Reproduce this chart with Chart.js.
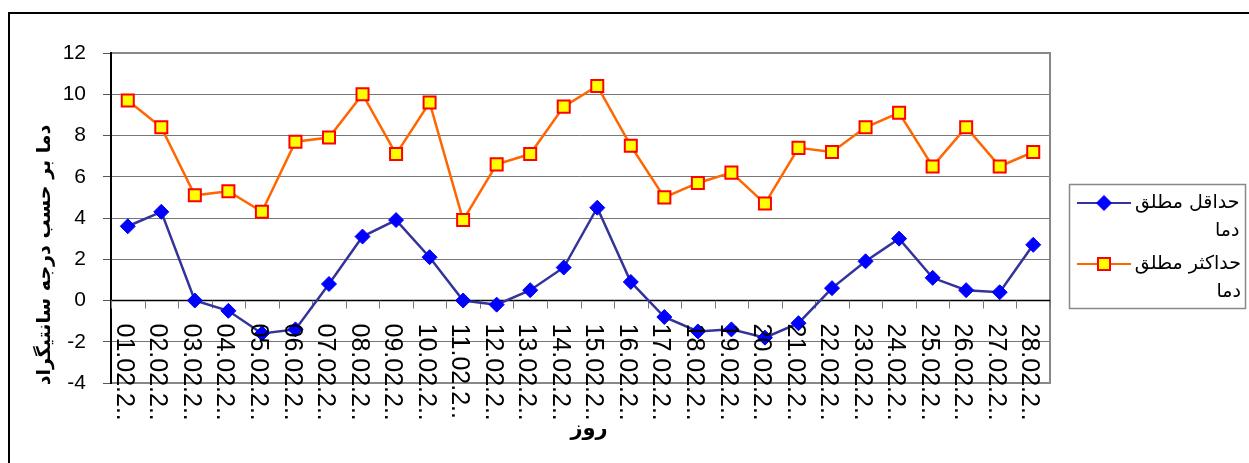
<!DOCTYPE html>
<html>
<head>
<meta charset="utf-8">
<script src="https://cdn.jsdelivr.net/npm/chart.js@4.4.1/dist/chart.umd.min.js"></script>
<style>
  html, body { margin: 0; padding: 0; background: #fff; }
  #wrap { position: relative; width: 1249px; height: 463px; overflow: hidden; }
  canvas { display: block; }
</style>
</head>
<body>
<div id="wrap"><canvas id="c" width="1249" height="463"></canvas></div>
<script>
const categories = ['01.02.2..','02.02.2..','03.02.2..','04.02.2..','05.02.2..','06.02.2..','07.02.2..',
  '08.02.2..','09.02.2..','10.02.2..','11.02.2..','12.02.2..','13.02.2..','14.02.2..',
  '15.02.2..','16.02.2..','17.02.2..','18.02.2..','19.02.2..','20.02.2..','21.02.2..',
  '22.02.2..','23.02.2..','24.02.2..','25.02.2..','26.02.2..','27.02.2..','28.02.2..'];
const minTemp = [3.6,4.3,0,-0.5,-1.6,-1.4,0.8,3.1,3.9,2.1,0,-0.2,0.5,1.6,4.5,0.9,-0.8,-1.5,-1.4,-1.8,-1.1,0.6,1.9,3.0,1.1,0.5,0.4,2.7];
const maxTemp = [9.7,8.4,5.1,5.3,4.3,7.7,7.9,10.0,7.1,9.6,3.9,6.6,7.1,9.4,10.4,7.5,5.0,5.7,6.2,4.7,7.4,7.2,8.4,9.1,6.5,8.4,6.5,7.2];
const seriesNames = ['حداقل مطلق دما', 'حداکثر مطلق دما'];
const yTicks = [-4,-2,0,2,4,6,8,10,12];
const yTitle = 'دما بر حسب درجه سانتیگراد';
const xTitle = 'روز';

const LATIN = '"Liberation Sans", Arial, sans-serif';
const ARAB = '"DejaVu Sans", sans-serif';

const customDraw = {
  id: 'customDraw',
  beforeDraw(chart) {
    const ctx = chart.ctx;
    ctx.save();
    ctx.fillStyle = '#fff';
    ctx.fillRect(0, 0, chart.width, chart.height);
    ctx.strokeStyle = '#000';
    ctx.lineWidth = 2;
    ctx.beginPath();
    ctx.moveTo(9, chart.height + 5);
    ctx.lineTo(9, 13);
    ctx.lineTo(chart.width + 5, 13);
    ctx.stroke();
    ctx.restore();
  },
  beforeDatasetsDraw(chart) {
    const ctx = chart.ctx;
    const a = chart.chartArea;
    const xs = chart.scales.x, ys = chart.scales.y;
    const zeroY = ys.getPixelForValue(0);
    ctx.save();
    ctx.strokeStyle = '#888';
    ctx.lineWidth = 2;
    ctx.beginPath();
    ctx.moveTo(a.left, a.top);
    ctx.lineTo(a.right, a.top);
    ctx.lineTo(a.right, a.bottom);
    ctx.lineTo(a.left, a.bottom);
    ctx.stroke();
    ctx.strokeStyle = '#000';
    ctx.lineWidth = 1.5;
    ctx.beginPath();
    ctx.moveTo(a.left, zeroY);
    ctx.lineTo(a.right, zeroY);
    ctx.stroke();
    ctx.lineWidth = 2;
    ctx.beginPath();
    ctx.moveTo(a.left, a.top - 1);
    ctx.lineTo(a.left, a.bottom + 1);
    ctx.stroke();
    const n = categories.length;
    const step = xs.getPixelForValue(1) - xs.getPixelForValue(0);
    ctx.strokeStyle = '#777';
    ctx.lineWidth = 1;
    ctx.beginPath();
    for (let i = 0; i <= n; i++) {
      const x = Math.round(xs.getPixelForValue(i) - step / 2) + 0.5;
      ctx.moveTo(x, zeroY);
      ctx.lineTo(x, zeroY + 8);
    }
    ctx.stroke();
    ctx.restore();
  },
  afterDraw(chart) {
    const ctx = chart.ctx;
    const xs = chart.scales.x, ys = chart.scales.y;
    const zeroY = ys.getPixelForValue(0);
    ctx.save();
    ctx.fillStyle = '#000';
    ctx.font = '25px ' + LATIN;
    ctx.textAlign = 'left';
    ctx.textBaseline = 'middle';
    categories.forEach((lab, i) => {
      const x = xs.getPixelForValue(i) - 4;
      ctx.save();
      ctx.translate(x, zeroY + 23);
      ctx.rotate(Math.PI / 2);
      ctx.fillText(lab, 0, 0);
      ctx.restore();
    });
    ctx.font = 'bold 19px ' + ARAB;
    ctx.textAlign = 'center';
    ctx.textBaseline = 'middle';
    ctx.save();
    ctx.translate(45, 255);
    ctx.rotate(-Math.PI / 2);
    ctx.fillText(yTitle, 0, 0);
    ctx.restore();
    ctx.font = 'bold 21px ' + ARAB;
    ctx.fillText(xTitle, 589, 430);

    ctx.strokeStyle = '#888';
    ctx.lineWidth = 1.5;
    ctx.strokeRect(1069.5, 184.5, 176, 124);
    const entries = [
      { y: 203, ds: chart.data.datasets[0] },
      { y: 264, ds: chart.data.datasets[1] }
    ];
    entries.forEach(e => {
      const ds = e.ds;
      ctx.strokeStyle = ds.borderColor;
      ctx.lineWidth = 2;
      ctx.beginPath();
      ctx.moveTo(1077, e.y);
      ctx.lineTo(1131, e.y);
      ctx.stroke();
      const cx = 1104;
      ctx.fillStyle = ds.pointBackgroundColor;
      ctx.strokeStyle = ds.pointBorderColor;
      ctx.lineWidth = ds.pointBorderWidth;
      ctx.beginPath();
      if (ds.pointStyle === 'rectRot') {
        const r = ds.pointRadius;
        ctx.moveTo(cx, e.y - r);
        ctx.lineTo(cx + r, e.y);
        ctx.lineTo(cx, e.y + r);
        ctx.lineTo(cx - r, e.y);
        ctx.closePath();
      } else {
        const s = ds.pointRadius * Math.SQRT1_2;
        ctx.rect(cx - s, e.y - s, 2 * s, 2 * s);
      }
      ctx.fill();
      ctx.stroke();
      const name = ds.label;
      const k = name.lastIndexOf(' ');
      const lines = [name.slice(0, k), name.slice(k + 1)];
      ctx.font = '19px ' + ARAB;
      ctx.fillStyle = '#000';
      ctx.textBaseline = 'middle';
      ctx.textAlign = 'right';
      const w = Math.max(...lines.map(l => ctx.measureText(l).width));
      const rx = Math.min(1135 + w, 1241);
      lines.forEach((l, j) => ctx.fillText(l, rx, e.y + j * 28));
    });
    ctx.restore();
  }
};

new Chart(document.getElementById('c'), {
  type: 'line',
  data: {
    labels: categories,
    datasets: [
      {
        label: seriesNames[0],
        data: minTemp,
        borderColor: '#333399',
        borderWidth: 2.5,
        pointStyle: 'rectRot',
        pointRadius: 7.5,
        pointHoverRadius: 7.5,
        pointBackgroundColor: '#0000ff',
        pointBorderColor: '#0000ff',
        pointBorderWidth: 1,
        tension: 0,
        fill: false
      },
      {
        label: seriesNames[1],
        data: maxTemp,
        borderColor: '#ff6600',
        borderWidth: 2.5,
        pointStyle: 'rect',
        pointRadius: 8.5,
        pointHoverRadius: 8.5,
        pointBackgroundColor: '#ffff00',
        pointBorderColor: '#ff0000',
        pointBorderWidth: 2,
        tension: 0,
        fill: false
      }
    ]
  },
  options: {
    responsive: false,
    animation: false,
    events: [],
    layout: { padding: { left: 0, top: 53, right: 199, bottom: 80 } },
    plugins: { legend: { display: false }, tooltip: { enabled: false }, title: { display: false } },
    scales: {
      x: {
        type: 'category',
        offset: true,
        display: false
      },
      y: {
        min: -4,
        max: 12,
        afterFit(scale) { scale.width = 111; },
        afterBuildTicks(scale) { scale.ticks = yTicks.map(v => ({ value: v })); },
        border: { display: false },
        grid: {
          color: '#777',
          lineWidth: 1,
          tickLength: 8,
          tickColor: '#555',
          drawTicks: true
        },
        ticks: {
          padding: 17,
          color: '#000',
          font: { family: LATIN, size: 21 }
        }
      }
    }
  },
  plugins: [customDraw]
});
</script>
</body>
</html>
